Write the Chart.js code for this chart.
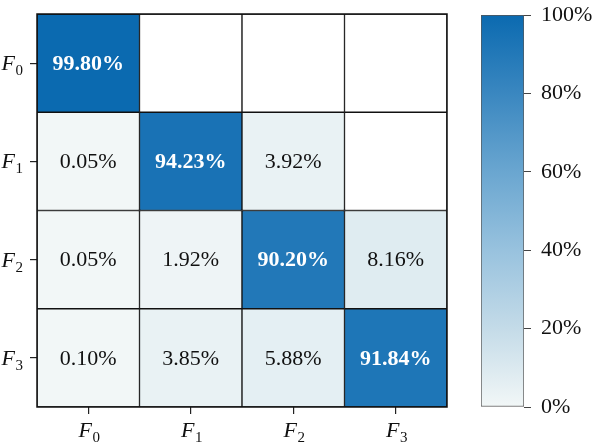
<!DOCTYPE html>
<html>
<head>
<meta charset="utf-8">
<script src="https://cdn.jsdelivr.net/npm/chart.js@4.4.1/dist/chart.umd.min.js"></script>
<style>
  html, body { margin: 0; padding: 0; background: #fff; }
  #wrap { position: relative; width: 600px; height: 447px; }
  #heatBox { position: absolute; left: 0; top: 0; width: 460px; height: 447px; }
  #barBox { position: absolute; left: 466px; top: 0; width: 134px; height: 447px; }
</style>
</head>
<body>
<div id="wrap">
  <div id="heatBox"><canvas id="heatmap"></canvas></div>
  <div id="barBox"><canvas id="colorbar"></canvas></div>
</div>
<script>
// class names: F with subscript index
const classLabels = ['F0', 'F1', 'F2', 'F3'];
const classIndex = ['0', '1', '2', '3'];

// percentages per row (null = empty cell)
const rowF0 = [99.80, null, null, null];
const rowF1 = [0.05, 94.23, 3.92, null];
const rowF2 = [0.05, 1.92, 90.20, 8.16];
const rowF3 = [0.10, 3.85, 5.88, 91.84];

// colorbar ticks
const colorbarTicks = [0, 20, 40, 60, 80, 100];

const matrix = [rowF0, rowF1, rowF2, rowF3];
const FONT = "'Liberation Serif', 'Times New Roman', serif";

// colour map stops (position 0..1, rgb)
const cmapStops = [
  [0.0, [242, 247, 247]],
  [0.2, [196, 219, 232]],
  [0.4, [152, 194, 222]],
  [0.6, [106, 166, 208]],
  [0.8, [58, 135, 192]],
  [1.0, [11, 106, 176]]
];

function cmap(v) {
  const t = Math.max(0, Math.min(1, v / 100));
  for (let i = 1; i < cmapStops.length; i++) {
    const [t1, c1] = cmapStops[i];
    const [t0, c0] = cmapStops[i - 1];
    if (t <= t1) {
      const f = (t - t0) / (t1 - t0);
      const c = c0.map((a, k) => Math.round(a + (c1[k] - a) * f));
      return `rgb(${c[0]},${c[1]},${c[2]})`;
    }
  }
  const c = cmapStops[cmapStops.length - 1][1];
  return `rgb(${c[0]},${c[1]},${c[2]})`;
}

// draw "F" italic with subscript digit
function drawClassLabel(ctx, x, baseline, idx, align) {
  ctx.save();
  ctx.fillStyle = '#111';
  ctx.textAlign = 'left';
  ctx.textBaseline = 'alphabetic';
  ctx.font = `italic 22px ${FONT}`;
  const wF = ctx.measureText('F').width;
  ctx.font = `15px ${FONT}`;
  const wS = ctx.measureText(idx).width;
  const total = wF + 0.5 + wS;
  const start = align === 'right' ? x - total : x - total / 2;
  ctx.font = `italic 22px ${FONT}`;
  ctx.fillText('F', start, baseline);
  ctx.font = `15px ${FONT}`;
  ctx.fillText(idx, start + wF + 0.5, baseline + 5);
  ctx.restore();
}

const heatLabels = {
  id: 'heatLabels',
  afterDatasetsDraw(chart) {
    const { ctx, chartArea, scales: { x, y } } = chart;
    ctx.save();
    // outer frame
    ctx.strokeStyle = '#111';
    ctx.lineWidth = 1.5;
    ctx.strokeRect(chartArea.left, chartArea.top, chartArea.right - chartArea.left, chartArea.bottom - chartArea.top);
    ctx.textAlign = 'center';
    ctx.textBaseline = 'middle';
    matrix.forEach((row, r) => {
      row.forEach((v, c) => {
        if (v === null) return;
        const big = v > 50;
        ctx.font = `${big ? 'bold ' : ''}22px ${FONT}`;
        ctx.fillStyle = big ? '#ffffff' : '#111111';
        ctx.fillText(v.toFixed(2) + '%', x.getPixelForValue(c), y.getPixelForValue(r) + 1);
      });
    });
    ctx.restore();
  },
  afterDraw(chart) {
    const { ctx, scales: { x, y } } = chart;
    classIndex.forEach((idx, i) => {
      drawClassLabel(ctx, 23, y.getPixelForValue(i) + 7, idx, 'right');
      drawClassLabel(ctx, x.getPixelForValue(i) + 1, chart.chartArea.bottom + 30, idx, 'center');
    });
  }
};

const heatDatasets = matrix.map((row, r) => ({
  label: classLabels[r],
  data: row.map(() => [r - 0.5, r + 0.5]),
  backgroundColor: row.map(v => v === null ? '#ffffff' : cmap(v)),
  borderColor: '#111',
  borderWidth: 1,
  borderSkipped: false,
  barPercentage: 1,
  categoryPercentage: 1,
  grouped: false
}));

new Chart(document.getElementById('heatmap'), {
  type: 'bar',
  data: { labels: classLabels, datasets: heatDatasets },
  options: {
    responsive: true,
    maintainAspectRatio: false,
    animation: false,
    layout: { padding: { top: 14, right: 13, left: 0, bottom: 0 } },
    plugins: { legend: { display: false }, tooltip: { enabled: false } },
    scales: {
      x: {
        type: 'category',
        offset: true,
        ticks: { display: false },
        grid: { display: true, offset: false, drawOnChartArea: false, drawTicks: true, tickLength: 7, tickColor: '#222', lineWidth: 1.2 },
        border: { display: false },
        afterFit: s => { s.height = 40; }
      },
      y: {
        type: 'linear',
        min: -0.5,
        max: 3.5,
        reverse: true,
        afterBuildTicks: s => { s.ticks = classIndex.map((_, i) => ({ value: i })); },
        ticks: { display: false },
        grid: { display: true, drawOnChartArea: false, drawTicks: true, tickLength: 7, tickColor: '#222', lineWidth: 1.2 },
        border: { display: false },
        afterFit: s => { s.width = 37; }
      }
    }
  },
  plugins: [heatLabels]
});

new Chart(document.getElementById('colorbar'), {
  type: 'bar',
  data: {
    labels: [''],
    datasets: [{
      data: [[0, 100]],
      backgroundColor: context => {
        const chart = context.chart;
        const ys = chart.scales.y;
        if (!chart.chartArea || !ys) return '#ffffff';
        const g = chart.ctx.createLinearGradient(0, ys.getPixelForValue(0), 0, ys.getPixelForValue(100));
        cmapStops.forEach(([t]) => g.addColorStop(t, cmap(t * 100)));
        return g;
      },
      borderColor: '#555',
      borderWidth: 1,
      borderSkipped: false,
      barPercentage: 1,
      categoryPercentage: 1
    }]
  },
  options: {
    responsive: true,
    maintainAspectRatio: false,
    animation: false,
    layout: { padding: { top: 15, left: 15, bottom: 40, right: 0 } },
    plugins: { legend: { display: false }, tooltip: { enabled: false } },
    scales: {
      x: { display: false },
      y: {
        position: 'right',
        min: 0,
        max: 100,
        afterBuildTicks: s => { s.ticks = colorbarTicks.map(v => ({ value: v })); },
        ticks: {
          callback: v => v + '%',
          color: '#111',
          padding: 10,
          font: { family: FONT, size: 22 }
        },
        grid: { display: true, drawOnChartArea: false, drawTicks: true, tickLength: 7, tickColor: '#444', lineWidth: 1 },
        border: { display: false },
        afterFit: s => { s.width = 76; s.paddingTop = 0; s.paddingBottom = 0; }
      }
    }
  }
});
</script>
</body>
</html>
